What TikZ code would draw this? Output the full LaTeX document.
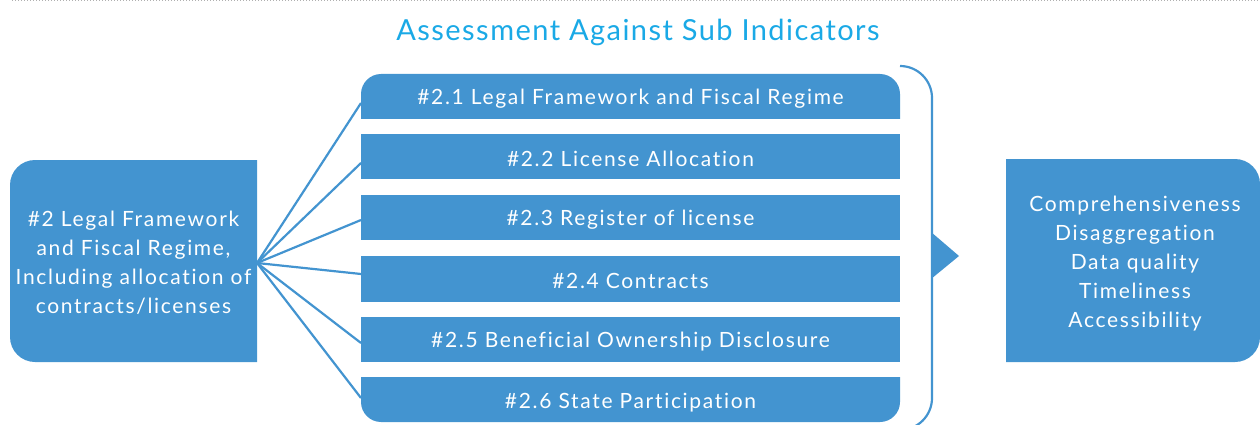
\documentclass[tikz,border=0pt]{standalone}
\usepackage{fontspec}
\setmainfont{Lato}
\newfontfamily\lsfont[LetterSpace=8,Ligatures=NoCommon]{Lato}
\newfontfamily\ttlfont[LetterSpace=5,Ligatures=NoCommon]{Lato}
\definecolor{boxblue}{HTML}{4394D0}
\definecolor{titlecyan}{HTML}{1AA9E6}
\definecolor{dotgray}{HTML}{B0B0B0}
\begin{document}
\begin{tikzpicture}[x=1pt,y=-1pt,
  boxfill/.style={fill=boxblue},
  bartext/.style={text=white,font=\lsfont\fontsize{21}{24}\selectfont,anchor=center,inner sep=0pt},
  boxtext/.style={text=white,font=\lsfont\fontsize{21}{29}\selectfont,align=center,anchor=center,inner sep=0pt},
  fanline/.style={draw=boxblue,line width=2.2pt},
  braceline/.style={draw=boxblue,line width=2.2pt}]
\useasboundingbox (0,0) rectangle (1260,425);
\clip (0,0) rectangle (1260,425);
% top dotted rule
\draw[dotgray,line width=1pt,dotted] (12,1) -- (1260,1);
% title
\node[text=titlecyan,font=\ttlfont\fontsize{29}{34}\selectfont,inner sep=0pt] (title) at (638,32) {Assessment Against Sub Indicators};
% left box
\fill[boxfill] (257,160) -- (35,160) .. controls (21.2,160) and (10,171.2) .. (10,185) -- (10,337) .. controls (10,350.8) and (21.2,362) .. (35,362) -- (257,362) -- cycle;
\node[boxtext] (L) at (133.5,262.5) {\#2 Legal Framework\\and Fiscal Regime,\\Including allocation of\\contracts/licenses};
\coordinate (src) at (257,263);
% bars
\fill[boxfill] (361,119) -- (361,94) .. controls (361,83) and (370,74) .. (381,74) -- (880,74) .. controls (891,74) and (900,83) .. (900,94) -- (900,119) -- cycle;
\fill[boxfill] (361,134) rectangle (900,179);
\fill[boxfill] (361,195) rectangle (900,240);
\fill[boxfill] (361,256) rectangle (900,302);
\fill[boxfill] (361,317) rectangle (900,362);
\fill[boxfill] (361,377) -- (361,402) .. controls (361,413) and (370,422) .. (381,422) -- (880,422) .. controls (891,422) and (900,413) .. (900,402) -- (900,377) -- cycle;
\node[bartext] (b1) at (630.5,98.5) {\#2.1 Legal Framework and Fiscal Regime};
\node[bartext] (b2) at (630.5,158.5) {\#2.2 License Allocation};
\node[bartext] (b3) at (630.5,219.5) {\#2.3 Register of license};
\node[bartext] (b4) at (630.5,280.5) {\#2.4 Contracts};
\node[bartext] (b5) at (630.5,341.5) {\#2.5 Beneficial Ownership Disclosure};
\node[bartext] (b6) at (630.5,402.5) {\#2.6 State Participation};
% fan connectors
\coordinate (e1) at (361,103);
\coordinate (e2) at (361,163);
\coordinate (e3) at (361,220);
\coordinate (e4) at (361,274);
\coordinate (e5) at (361,343);
\coordinate (e6) at (361,398);
\foreach \e in {e1,e2,e3,e4,e5,e6} \draw[fanline] (src) -- (\e);
% brace
\draw[braceline,rounded corners=32pt] (900,66) -- (932,66) -- (932,430) -- (880,430);
\fill[boxfill] (931,232) -- (959,256) -- (931,279) -- cycle;
% right box
\fill[boxfill] (1006,159) -- (1235,159) .. controls (1248.8,159) and (1260,170.2) .. (1260,184) -- (1260,337) .. controls (1260,350.8) and (1248.8,362) .. (1235,362) -- (1006,362) -- cycle;
\node[boxtext] (R) at (1135,264) {Comprehensiveness\\Disaggregation\\Data quality\\Timeliness\\Accessibility};
\end{tikzpicture}
\end{document}
